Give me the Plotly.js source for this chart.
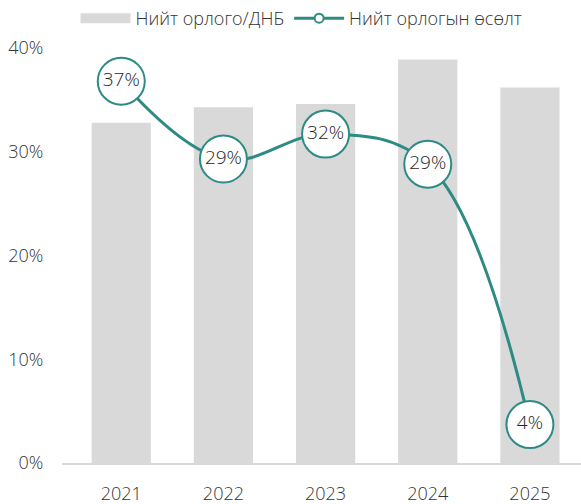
<!DOCTYPE html>
<html><head><meta charset="utf-8">
<script src="https://cdn.plot.ly/plotly-3.0.1.min.js"></script>
<style>html,body{margin:0;padding:0;background:#fff}</style>
</head><body><div id="chart" style="width:581px;height:504px"></div>
<script>
const years = ['2021','2022','2023','2024','2025'];
const revenueToGdp = [0.328, 0.343, 0.346, 0.389, 0.362];
const revenueGrowth = [0.368, 0.293, 0.317, 0.288, 0.037];
const growthLabels = ['37%','29%','32%','29%','4%'];
const yTicks = [0, 0.1, 0.2, 0.3, 0.4];
const yTickText = ['0%','10%','20%','30%','40%'];
const legendNames = ['Нийт орлого/ДНБ', 'Нийт орлогын өсөлт'];

const teal = '#2e8b84';
const grey = '#d9d9d9';
const txt = '#333333';
const fam = 'Open Sans, Noto Sans, sans-serif';

const traces = [
  {type:'bar', x:years, y:revenueToGdp, marker:{color:grey}, width:0.58, showlegend:false, hoverinfo:'skip'},
  {type:'scatter', mode:'lines+markers+text', x:years, y:revenueGrowth, text:growthLabels,
   textposition:'middle center', textfont:{family:fam, size:19, color:'#262626', weight:300},
   line:{color:teal, width:3, shape:'spline', smoothing:1.1},
   marker:{size:47, color:'#ffffff', line:{color:teal, width:2}}, showlegend:false, cliponaxis:false},
  {type:'scatter', mode:'lines', x:[null], y:[null], name:legendNames[0], line:{color:grey, width:14}},
  {type:'scatter', mode:'lines+markers', x:[null], y:[null], name:legendNames[1], line:{color:teal, width:3},
   marker:{size:9, color:'#ffffff', line:{color:teal, width:2}}}
];

const layout = {
  width:581, height:504,
  margin:{l:62, r:0, t:48, b:41},
  paper_bgcolor:'#fff', plot_bgcolor:'#fff',
  font:{family:fam, size:18, color:txt, weight:300},
  showlegend:true,
  legend:{orientation:'h', xref:'container', x:0.13, yref:'container', y:1, yanchor:'top', xanchor:'left',
          font:{size:18, color:txt, family:fam, weight:300}, itemwidth:50, tracegroupgap:0, bgcolor:'rgba(0,0,0,0)'},
  xaxis:{type:'category', range:[-0.58, 4.5], showline:true, linecolor:'#d9d9d9', linewidth:2,
         ticks:'outside', ticklen:13, tickcolor:'rgba(0,0,0,0)', showgrid:false, zeroline:false,
         tickfont:{size:18, color:txt, family:fam, weight:300}},
  yaxis:{range:[0, 0.4], tickvals:yTicks, ticktext:yTickText, showgrid:false, zeroline:false, showline:false,
         ticks:'outside', ticklen:14, tickcolor:'rgba(0,0,0,0)',
         tickfont:{size:18, color:txt, family:fam, weight:300}},
  bargap:0.42
};
Plotly.newPlot('chart', traces, layout, {displayModeBar:false, staticPlot:true});
</script></body></html>
